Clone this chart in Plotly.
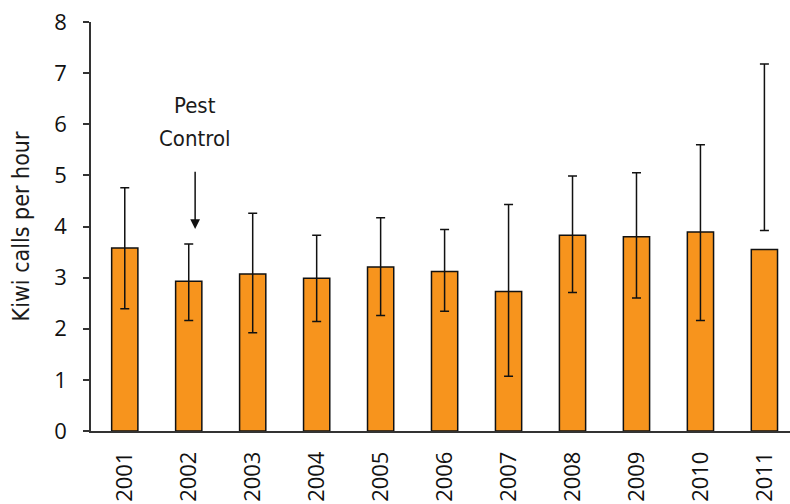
import plotly.graph_objects as go

# valores
anos = ['2001', '2002', '2003', '2004', '2005', '2006', '2007', '2008', '2009', '2010', '2011']
media = [3.58, 2.93, 3.07, 2.99, 3.21, 3.12, 2.73, 3.83, 3.80, 3.89, 3.55]
limite_sup = [4.76, 3.66, 4.26, 3.83, 4.17, 3.94, 4.43, 4.99, 5.05, 5.60, 7.18]
limite_inf = [2.39, 2.16, 1.92, 2.14, 2.26, 2.34, 1.07, 2.71, 2.60, 2.16, 3.92]
y_ticks = [0, 1, 2, 3, 4, 5, 6, 7, 8]

erro_mais = [s - m for s, m in zip(limite_sup, media)]
erro_menos = [m - i for m, i in zip(media, limite_inf)]

fig = go.Figure()
fig.add_trace(
    go.Bar(
        x=anos,
        y=media,
        width=0.41,
        marker=dict(color='#F7941D', line=dict(color='#111111', width=1.5)),
        error_y=dict(
            type='data',
            symmetric=False,
            array=erro_mais,
            arrayminus=erro_menos,
            color='#111111',
            thickness=1.5,
            width=4.5,
        ),
    )
)

# seta "Pest Control"
fig.add_annotation(
    x=1.1, y=3.95, ax=1.1, ay=5.1,
    xref='x', yref='y', axref='x', ayref='y',
    text='', showarrow=True,
    arrowhead=2, arrowsize=1.3, arrowwidth=1.5, arrowcolor='#111111',
)
fuente_nota = dict(family='DejaVu Sans Condensed', size=22, color='#1a1a1a')
fig.add_annotation(x=1.1, y=6.36, xref='x', yref='y', text='Pest',
                   showarrow=False, font=fuente_nota)
fig.add_annotation(x=1.1, y=5.73, xref='x', yref='y', text='Control',
                   showarrow=False, font=fuente_nota)

fig.update_layout(
    width=790, height=504,
    margin=dict(l=91, r=0, t=22, b=73),
    plot_bgcolor='white', paper_bgcolor='white',
    showlegend=False,
    xaxis=dict(
        type='category',
        range=[-0.528, 10.40],
        automargin=False,
        showline=True, linecolor='#333333', linewidth=1.5,
        ticks='', tickangle=-90,
        ticklabelstandoff=10,
        tickfont=dict(family='Open Sans', size=22, color='#111111'),
        showgrid=False,
    ),
    yaxis=dict(
        range=[0, 8],
        tickvals=y_ticks,
        automargin=False,
        showline=True, linecolor='#333333', linewidth=1.5,
        ticks='outside', ticklen=6, tickwidth=1.5, tickcolor='#333333',
        ticklabelstandoff=12,
        tickfont=dict(family='Open Sans', size=22, color='#111111'),
        showgrid=False, zeroline=False,
        title=dict(
            text='Kiwi calls per hour',
            font=dict(family='DejaVu Sans Condensed', size=23, color='#1a1a1a'),
            standoff=18,
        ),
    ),
)

fig.write_html('out.html', config={'displayModeBar': False},
               post_script="document.body.style.margin='0px';")
